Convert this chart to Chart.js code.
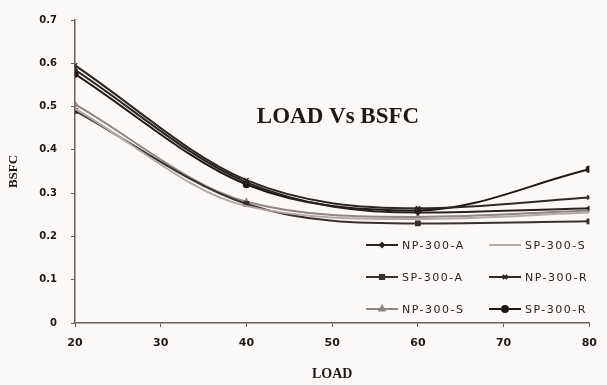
<!DOCTYPE html>
<html>
<head>
<meta charset="utf-8">
<script src="https://cdn.jsdelivr.net/npm/chart.js@4.4.0/dist/chart.umd.min.js"></script>
<style>
  html, body { margin: 0; padding: 0; background: #fbf9f8; }
  #wrap { width: 607px; height: 385px; }
</style>
</head>
<body>
<div id="wrap"><canvas id="chart" width="607" height="385"></canvas></div>
<script>
// data
const loads = [20, 40, 60, 80];
const npA = [0.585, 0.325, 0.255, 0.265];
const spS = [0.495, 0.270, 0.240, 0.255];
const spA = [0.490, 0.275, 0.230, 0.235];
const npR = [0.595, 0.330, 0.265, 0.290];
const npS = [0.505, 0.280, 0.245, 0.260];
const spR = [0.575, 0.320, 0.260, 0.355];
const seriesNames = ['NP-300-A', 'SP-300-S', 'SP-300-A', 'NP-300-R', 'NP-300-S', 'SP-300-R'];
const xTicks = [20, 30, 40, 50, 60, 70, 80];
const yTicks = [0, 0.1, 0.2, 0.3, 0.4, 0.5, 0.6, 0.7];

function pts(vals) {
    return loads.map((l, i) => ({ x: l, y: vals[i] }));
}

function makeSet(label, vals, color, style, radius) {
    return {
        label: label,
        data: pts(vals),
        borderColor: color,
        backgroundColor: color,
        borderWidth: 2,
        pointStyle: style,
        pointRadius: radius,
        pointBorderWidth: 1.5,
        cubicInterpolationMode: 'monotone',
        fill: false
    };
}

const datasets = [
    makeSet(seriesNames[0], npA, '#2a2220', 'rectRot', 2),
    makeSet(seriesNames[1], spS, '#b3aaa6', 'line', 0),
    makeSet(seriesNames[2], spA, '#3a302c', 'rect', 3),
    makeSet(seriesNames[3], npR, '#2f2724', 'crossRot', 3),
    makeSet(seriesNames[4], npS, '#8f8581', 'triangle', 3),
    makeSet(seriesNames[5], spR, '#1f1816', 'circle', 3)
];

// title + legend drawn inside the plot
const overlay = {
    id: 'overlay',
    afterDraw(chart) {
        const ctx = chart.ctx;
        ctx.save();
        ctx.letterSpacing = '0px';
        ctx.fillStyle = '#1e1816';
        ctx.font = 'bold 23px "Liberation Serif"';
        ctx.textAlign = 'center';
        ctx.textBaseline = 'middle';
        ctx.fillText('LOAD Vs BSFC', 338, 117);

        const cols = [366, 489];
        const rows = [245, 277, 309];
        ctx.font = '11px "DejaVu Sans"';
        ctx.letterSpacing = '1.5px';
        ctx.textAlign = 'left';
        chart.data.datasets.forEach((ds, i) => {
            const x = cols[i % 2];
            const y = rows[Math.floor(i / 2)];
            ctx.strokeStyle = ds.borderColor;
            ctx.lineWidth = 2;
            ctx.beginPath();
            ctx.moveTo(x, y);
            ctx.lineTo(x + 32, y);
            ctx.stroke();
            if (ds.pointRadius > 0) {
                Chart.helpers.drawPoint(ctx, {
                    pointStyle: ds.pointStyle,
                    radius: ds.pointRadius,
                    borderWidth: 1.5
                }, x + 16, y);
                ctx.fillStyle = ds.borderColor;
                ctx.fill();
            }
            ctx.fillStyle = '#2a2220';
            ctx.fillText(ds.label, x + 36, y + 1);
        });
        ctx.letterSpacing = '0px';
        ctx.restore();
    }
};

new Chart(document.getElementById('chart'), {
    type: 'line',
    data: { datasets: datasets },
    options: {
        responsive: false,
        animation: false,
        layout: { padding: { left: 0, right: 17, top: 18, bottom: 0 } },
        plugins: { legend: { display: false }, tooltip: { enabled: false } },
        scales: {
            x: {
                type: 'linear',
                min: 20,
                max: 80,
                afterBuildTicks(scale) { scale.ticks = xTicks.map(v => ({ value: v })); },
                afterFit(scale) { scale.height = 62; },
                border: { display: true, color: '#6e5f5a', width: 1.5 },
                grid: { drawOnChartArea: false, drawTicks: true, tickLength: 4, color: '#6e5f5a' },
                ticks: { color: '#1e1816', font: { family: 'DejaVu Sans', size: 11, weight: 'bold' }, padding: 10 },
                title: { display: true, text: 'LOAD', color: '#1e1816', font: { family: 'Liberation Serif', size: 14, weight: 'bold' }, padding: { top: 2, bottom: 2 } }
            },
            y: {
                min: 0,
                max: 0.7,
                afterBuildTicks(scale) { scale.ticks = yTicks.map(v => ({ value: v })); },
                afterFit(scale) { scale.width = 75; },
                border: { display: true, color: '#6e5f5a', width: 1.5 },
                grid: { drawOnChartArea: false, drawTicks: true, tickLength: 4, color: '#6e5f5a' },
                ticks: { color: '#1e1816', font: { family: 'DejaVu Sans', size: 10, weight: 'bold' }, padding: 14,
                    callback: v => String(Math.round(v * 10) / 10) },
                title: { display: true, text: 'BSFC', color: '#1e1816', font: { family: 'Liberation Serif', size: 13, weight: 'bold' }, padding: { top: 6, bottom: 0 } }
            }
        }
    },
    plugins: [overlay]
});
</script>
</body>
</html>
